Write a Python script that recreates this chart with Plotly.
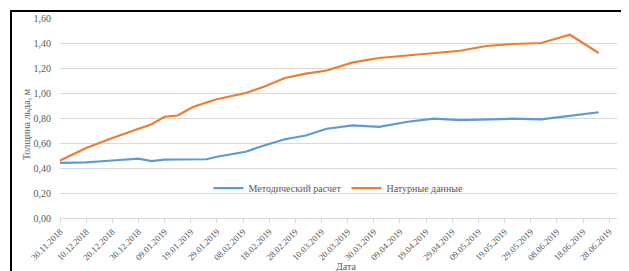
import plotly.graph_objects as go

dates = ["2018-11-30", "2018-12-10", "2018-12-20", "2018-12-30", "2019-01-04",
         "2019-01-09", "2019-01-14", "2019-01-20", "2019-01-25", "2019-01-29",
         "2019-02-09", "2019-02-16", "2019-02-24", "2019-03-04", "2019-03-12",
         "2019-03-22", "2019-04-01", "2019-04-12", "2019-04-22", "2019-05-02",
         "2019-05-12", "2019-05-22", "2019-06-02", "2019-06-13", "2019-06-24"]

metod = [0.44, 0.445, 0.46, 0.475, 0.455, 0.467, 0.468, 0.469, 0.47, 0.49,
         0.53, 0.58, 0.63, 0.66, 0.714, 0.74, 0.73, 0.77, 0.794, 0.784,
         0.792, 0.794, 0.79, 0.818, 0.846]

natur = [0.46, 0.56, 0.64, 0.71, 0.75, 0.81, 0.82, 0.89, 0.92, 0.95,
         1.00, 1.05, 1.12, 1.155, 1.18, 1.245, 1.28, 1.30, 1.315, 1.338,
         1.376, 1.392, 1.40, 1.466, 1.32]

series_names = ["Методический расчет", "Натурные данные"]
y_title = "Толщина льда, м"
x_title = "Дата"

FONT = "Times New Roman"
GRAY = "#595959"

fig = go.Figure()
fig.add_trace(go.Scatter(x=dates, y=metod, mode="lines", name=series_names[0],
                         line=dict(color="#5B9BD5", width=2.25)))
fig.add_trace(go.Scatter(x=dates, y=natur, mode="lines", name=series_names[1],
                         line=dict(color="#ED7D31", width=2.25)))

fig.update_layout(
    width=629, height=271,
    margin=dict(l=52, r=20, t=10, b=61),
    paper_bgcolor="white", plot_bgcolor="white",
    separators=", ",
    font=dict(family=FONT, size=10, color=GRAY),
    showlegend=True,
    legend=dict(orientation="h", x=0.5, y=0.15, xanchor="center", yanchor="middle",
                bgcolor="rgba(0,0,0,0)", font=dict(family=FONT, size=10, color=GRAY),
                itemwidth=30),
    xaxis=dict(
        type="date",
        range=["2018-11-30", "2019-07-01"],
        tick0="2018-11-30", dtick=864000000,
        tickformat="%d.%m.%Y", tickangle=-45,
        ticks="outside", ticklen=4, tickcolor="#D9D9D9",
        showline=True, linecolor="#D9D9D9", linewidth=1,
        showgrid=False, zeroline=False,
        tickfont=dict(family=FONT, size=9, color=GRAY),
        automargin=False,
    ),
    yaxis=dict(
        range=[0, 1.6], dtick=0.2, tickformat=".2f",
        showgrid=True, gridcolor="#D9D9D9", gridwidth=1,
        zeroline=False, showline=False, ticks="",
        ticklabelstandoff=8,
        tickfont=dict(family=FONT, size=10, color=GRAY),
        automargin=False,
    ),
    annotations=[
        dict(text=x_title, xref="paper", yref="paper", x=(338 - 52) / 557, y=(210 - 258) / 200,
             xanchor="center", yanchor="middle", showarrow=False,
             font=dict(family=FONT, size=10, color=GRAY)),
        dict(text=y_title, xref="paper", yref="paper", x=(18 - 52) / 557, y=0.47,
             xanchor="center", yanchor="middle", showarrow=False, textangle=-90,
             font=dict(family=FONT, size=10, color=GRAY)),
    ],
    shapes=[dict(type="rect", xref="paper", yref="paper",
                 x0=(3 - 52) / 557, x1=(624 - 52) / 557,
                 y0=(210 - 266) / 200, y1=(210 - 3) / 200,
                 line=dict(color="black", width=2), fillcolor="rgba(0,0,0,0)",
                 layer="above")],
)

fig.write_html("out.html")
